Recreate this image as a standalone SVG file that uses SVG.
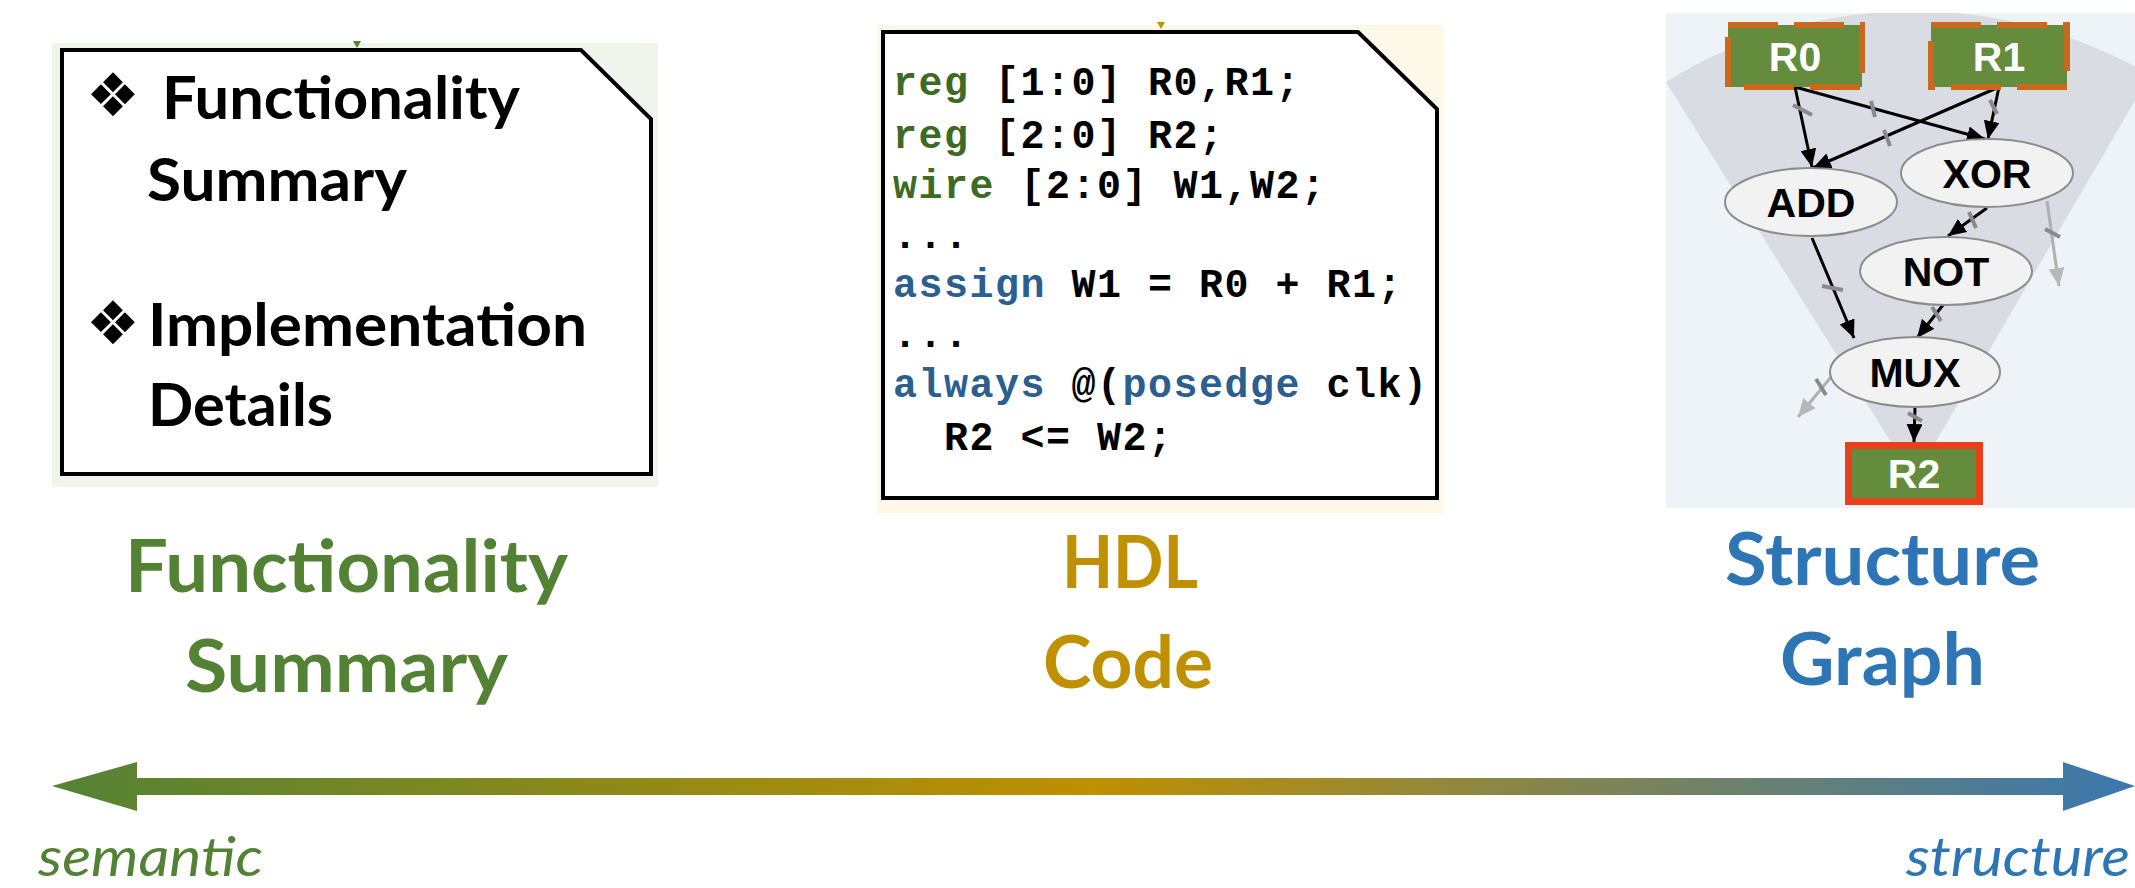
<svg xmlns="http://www.w3.org/2000/svg" width="2135" height="888" viewBox="0 0 2135 888">
  <style>
    .note { fill: #ffffff; stroke: #000000; stroke-width: 4; }
    .bullet { font-family: "DejaVu Sans", sans-serif; font-size: 60px; fill: #000000; }
    .item { font-family: Lato, "Open Sans", sans-serif; font-weight: 700; font-size: 60px; fill: #000000; }
    .code { font-family: "Liberation Mono", "DejaVu Sans Mono", monospace; font-weight: 700; font-size: 40px; letter-spacing: 1.5px; fill: #000000; }
    .kw-decl { fill: #3e6b23; }
    .kw-proc { fill: #2a5f8f; }
    .title { font-family: Lato, "Open Sans", sans-serif; font-weight: 700; font-size: 72px; }
    .axis { font-family: Lato, "Open Sans", sans-serif; font-style: italic; font-size: 54px; }
    .green { fill: #548235; }
    .gold { fill: #bf9000; }
    .blue { fill: #2e75b6; }
    .reg { fill: #648c3c; }
    .reg-in { stroke: #c8691e; stroke-width: 6; stroke-dasharray: 50 16; }
    .reg-out { stroke: #e8401c; stroke-width: 7; }
    .op { fill: #f2f2f2; stroke: #8c8c8c; stroke-width: 2; }
    .lbl { font-family: "Liberation Sans", Arial, sans-serif; font-weight: 700; font-size: 41px; text-anchor: middle; }
    .lbl-w { fill: #ffffff; }
    .lbl-k { fill: #000000; }
    .edge { stroke: #000000; stroke-width: 3; fill: none; marker-end: url(#arrow); }
    .edge-out { stroke: #b0b0b0; stroke-width: 3; fill: none; marker-end: url(#arrow-grey); }
    .tick { stroke: #8a8a8a; stroke-width: 4; }
  </style>
  <defs>
    <linearGradient id="axisGrad" x1="52" y1="0" x2="2135" y2="0" gradientUnits="userSpaceOnUse">
      <stop offset="0" stop-color="#548235"/>
      <stop offset="0.5" stop-color="#bf9000"/>
      <stop offset="1" stop-color="#3a78b0"/>
    </linearGradient>
    <marker id="arrow" markerUnits="userSpaceOnUse" markerWidth="20" markerHeight="16" refX="18" refY="8" orient="auto">
      <path d="M0,0 L18,8 L0,16 Z" fill="#000000"/>
    </marker>
    <marker id="arrow-grey" markerUnits="userSpaceOnUse" markerWidth="20" markerHeight="16" refX="18" refY="8" orient="auto">
      <path d="M0,0 L18,8 L0,16 Z" fill="#b8b8b8"/>
    </marker>
    <clipPath id="panelClip">
      <rect x="1666" y="13" width="469" height="495"/>
    </clipPath>
  </defs>

  <rect width="2135" height="888" fill="#ffffff"/>

  <!-- Panel 1: functionality summary note -->
  <g id="summary-note">
    <rect x="52" y="43" width="606" height="444" fill="#f0f5ec"/>
    <path d="M353,41 L361,41 L357,48 Z" fill="#548235"/>
    <path class="note" d="M62,50 L581,50 L651,119 L651,474 L62,474 Z"/>
    <text class="bullet" x="86" y="116">❖</text>
    <text class="item" x="162" y="119" textLength="358" lengthAdjust="spacingAndGlyphs">Functionality</text>
    <text class="item" x="147" y="201" textLength="260" lengthAdjust="spacingAndGlyphs">Summary</text>
    <text class="bullet" x="86" y="344">❖</text>
    <text class="item" x="148" y="346" textLength="439" lengthAdjust="spacingAndGlyphs">Implementation</text>
    <text class="item" x="148" y="426" textLength="185" lengthAdjust="spacingAndGlyphs">Details</text>
  </g>

  <!-- Panel 2: HDL source -->
  <g id="hdl-note">
    <rect x="877" y="25" width="567" height="488" fill="#fdf8e8"/>
    <path d="M1157,22 L1165,22 L1161,29 Z" fill="#bf9000"/>
    <path class="note" d="M883,32 L1358,32 L1437,109 L1437,498 L883,498 Z"/>
    <text class="code" x="893" y="95"><tspan class="kw-decl">reg</tspan> [1:0] R0,R1;</text>
    <text class="code" x="893" y="148"><tspan class="kw-decl">reg</tspan> [2:0] R2;</text>
    <text class="code" x="893" y="198"><tspan class="kw-decl">wire</tspan> [2:0] W1,W2;</text>
    <text class="code" x="893" y="248">...</text>
    <text class="code" x="893" y="297"><tspan class="kw-proc">assign</tspan> W1 = R0 + R1;</text>
    <text class="code" x="893" y="347">...</text>
    <text class="code" x="893" y="397"><tspan class="kw-proc">always</tspan> @(<tspan class="kw-proc">posedge</tspan> clk)</text>
    <text class="code" x="944" y="450">R2 &lt;= W2;</text>
  </g>

  <!-- Panel 3: structure graph backdrop -->
  <g id="graph-backdrop">
    <rect x="1666" y="13" width="469" height="495" fill="#eef3f8"/>
    <path d="M1666,82 A468,468 0 0 1 2150,75 L1914,479 Z" fill="#d9dde3" clip-path="url(#panelClip)"/>
  </g>

  <g id="connectors">
    <line class="edge" x1="1795" y1="87" x2="1812" y2="167"/>
    <line class="edge" x1="1795" y1="87" x2="1985" y2="139"/>
    <line class="edge" x1="1999" y1="87" x2="1813" y2="168"/>
    <line class="edge" x1="1999" y1="87" x2="1988" y2="139"/>
    <line class="edge" x1="1987" y1="208" x2="1948" y2="236"/>
    <line class="edge-out" x1="2047" y1="201" x2="2059" y2="286"/>
    <line class="edge" x1="1812" y1="238" x2="1854" y2="338"/>
    <line class="edge" x1="1943" y1="305" x2="1917" y2="338"/>
    <line class="edge-out" x1="1831" y1="377" x2="1798" y2="417"/>
    <line class="edge" x1="1915" y1="407" x2="1914" y2="442"/>
    <g id="width-ticks">
      <line class="tick" x1="1793" y1="105" x2="1812" y2="115"/>
      <line class="tick" x1="1871" y1="101" x2="1875" y2="117"/>
      <line class="tick" x1="1884" y1="130" x2="1890" y2="146"/>
      <line class="tick" x1="1990" y1="100" x2="1997" y2="114"/>
      <line class="tick" x1="1969" y1="212" x2="1976" y2="228"/>
      <line class="tick" x1="2045" y1="229" x2="2060" y2="237"/>
      <line class="tick" x1="1822" y1="286" x2="1843" y2="290"/>
      <line class="tick" x1="1932" y1="307" x2="1941" y2="321"/>
      <line class="tick" x1="1816" y1="379" x2="1826" y2="395"/>
      <line class="tick" x1="1908" y1="413" x2="1922" y2="421"/>
    </g>
  </g>

  <g id="node-R0">
    <rect class="reg reg-in" x="1728" y="25" width="134" height="62"/>
    <text class="lbl lbl-w" x="1795" y="71">R0</text>
  </g>
  <g id="node-R1">
    <rect class="reg reg-in" x="1931" y="25" width="136" height="62"/>
    <text class="lbl lbl-w" x="1999" y="71">R1</text>
  </g>
  <g id="node-ADD">
    <ellipse class="op" cx="1811" cy="202" rx="86" ry="34"/>
    <text class="lbl lbl-k" x="1811" y="217">ADD</text>
  </g>
  <g id="node-XOR">
    <ellipse class="op" cx="1987" cy="173" rx="86" ry="34"/>
    <text class="lbl lbl-k" x="1987" y="188">XOR</text>
  </g>
  <g id="node-NOT">
    <ellipse class="op" cx="1946" cy="271" rx="86" ry="34"/>
    <text class="lbl lbl-k" x="1946" y="286">NOT</text>
  </g>
  <g id="node-MUX">
    <ellipse class="op" cx="1915" cy="372" rx="85" ry="35"/>
    <text class="lbl lbl-k" x="1915" y="387">MUX</text>
  </g>
  <g id="node-R2">
    <rect class="reg reg-out" x="1848.5" y="445.5" width="131" height="56"/>
    <text class="lbl lbl-w" x="1914" y="488">R2</text>
  </g>

  <!-- Captions -->
  <g id="captions">
    <text class="title green" x="125" y="592" textLength="443" lengthAdjust="spacingAndGlyphs">Functionality</text>
    <text class="title green" x="185" y="692" textLength="323" lengthAdjust="spacingAndGlyphs">Summary</text>
    <text class="title gold" x="1062" y="588" textLength="136" lengthAdjust="spacingAndGlyphs">HDL</text>
    <text class="title gold" x="1043" y="688" textLength="170" lengthAdjust="spacingAndGlyphs">Code</text>
    <text class="title blue" x="1725" y="585" textLength="315" lengthAdjust="spacingAndGlyphs">Structure</text>
    <text class="title blue" x="1780" y="685" textLength="205" lengthAdjust="spacingAndGlyphs">Graph</text>
  </g>

  <!-- Semantic / structure axis -->
  <g id="axis">
    <path d="M52,786 L137,762 L137,778 L2063,778 L2063,762 L2135,786 L2063,811 L2063,795 L137,795 L137,811 Z" fill="url(#axisGrad)"/>
    <text class="axis green" x="38" y="876" textLength="225" lengthAdjust="spacingAndGlyphs">semantic</text>
    <text class="axis blue" x="1906" y="876" textLength="224" lengthAdjust="spacingAndGlyphs">structure</text>
  </g>
</svg>
